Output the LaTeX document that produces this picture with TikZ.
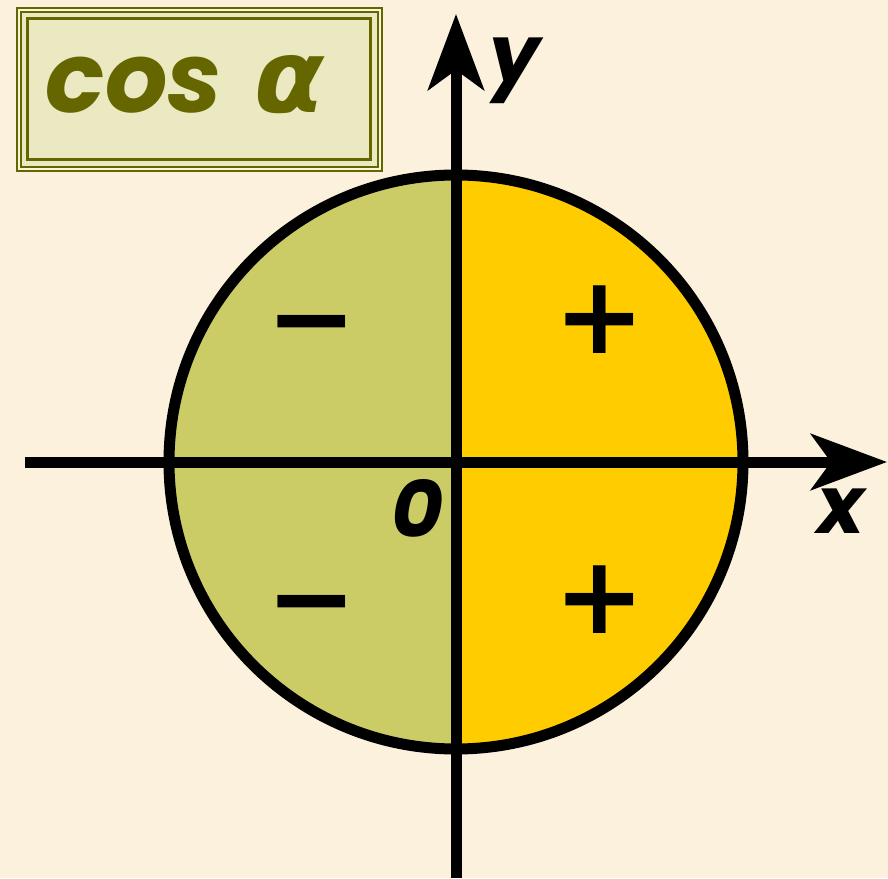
\documentclass[tikz,border=0pt]{standalone}
\usepackage{fontspec}
\usepackage{tikz}
\usetikzlibrary{positioning,arrows.meta}
\newfontfamily\labelfont{Poppins}
\newfontfamily\signfont{DejaVu Sans}
\definecolor{parchment}{RGB}{252,241,221}
\definecolor{negfill}{RGB}{204,204,102}
\definecolor{posfill}{RGB}{255,204,0}
\definecolor{titledark}{RGB}{102,102,0}
\definecolor{titlefill}{RGB}{235,233,194}
\definecolor{titlelight}{RGB}{248,246,220}
\tikzset{
  axisline/.style={line width=11pt, line cap=butt,
    -{Stealth[length=76pt,width=56pt,inset=20pt]}},
  rim/.style={line width=11pt},
  signlbl/.style={inner sep=0pt, font=\signfont\bfseries\fontsize{108}{108}\selectfont},
  axislbl/.style={inner sep=0pt, anchor=base,
    font=\labelfont\bfseries\itshape\fontsize{80}{80}\selectfont},
  titlebox/.style={draw=titledark, fill=titlefill, line width=4pt,
    minimum width=363pt, minimum height=161pt, inner sep=0pt},
}

\begin{document}
\begin{tikzpicture}[x=1pt, y=1pt]
  \fill[parchment] (-456,-416) rectangle (432,462);
  \useasboundingbox (-456,-416) rectangle (432,462);

  % ---- half discs ----
  \fill[negfill] (90:287) arc[start angle=90, end angle=270, radius=287] -- cycle;
  \fill[posfill] (-90:287) arc[start angle=-90, end angle=90, radius=287] -- cycle;
  \draw[rim] (0,0) circle[radius=287];

  % ---- axes ----
  \coordinate (xstart) at (-431,0);
  \coordinate (xend)   at (431,0);
  \coordinate (ystart) at (0,-416);
  \coordinate (yend)   at (0,448);
  \draw[axisline] (xstart) -- (xend);
  \draw[axisline] (ystart) -- (yend);

  % ---- axis labels ----
  \node[axislbl] at (59,379)    (ylbl) {y};
  \node[axislbl] at (385,-71)   (xlbl) {x};
  \node[axislbl] at (-38.5,-75) (olbl) {0};

  % ---- signs of cos ----
  \node[signlbl] at (-144,127)  (q2) {−};
  \node[signlbl] at (144,142)   (q1) {+};
  \node[signlbl] at (-144,-153) (q3) {−};
  \node[signlbl] at (144,-138)  (q4) {+};

  % ---- title ----
  \node[titlebox] at (-256.5,372.5) (tbox) {};
  \draw[titlelight, line width=2pt]
    ([shift={(3,-3)}]tbox.north west) rectangle ([shift={(-3,3)}]tbox.south east);
  \draw[titledark, line width=2pt]
    ([shift={(5,-5)}]tbox.north west) rectangle ([shift={(-5,5)}]tbox.south east);
  \draw[titledark, line width=3pt]
    ([shift={(12,-12)}]tbox.north west) rectangle ([shift={(-12,12)}]tbox.south east);
  \node[inner sep=0pt, anchor=base, text=titledark,
    font=\labelfont\bfseries\itshape\fontsize{98}{98}\selectfont]
    at (-271,349) (title)
    {cos\hspace{32pt}{\signfont\bfseries\itshape\fontsize{102}{102}\selectfont α}};
\end{tikzpicture}
\end{document}
